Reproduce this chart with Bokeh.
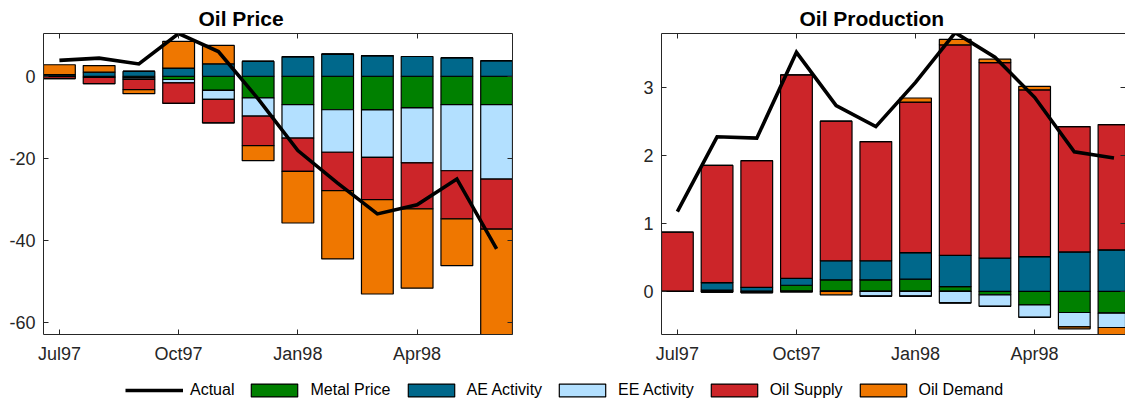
import numpy as np
from bokeh.plotting import figure
from bokeh.models import Range1d, FixedTicker, LinearAxis, Legend, LegendItem
from bokeh.layouts import column, row
from bokeh.embed import file_html
from bokeh.resources import INLINE

# ---------------- data ----------------
months = ["Jul97", "Aug97", "Sep97", "Oct97", "Nov97", "Dec97",
          "Jan98", "Feb98", "Mar98", "Apr98", "May98", "Jun98"]
x_tick_pos = [0, 3, 6, 9]
x_tick_labels = ["Jul97", "Oct97", "Jan98", "Apr98"]

series_names = ["Metal Price", "AE Activity", "EE Activity", "Oil Supply", "Oil Demand"]
series_colors = ["#008000", "#00688b", "#b3e0ff", "#cc2529", "#ef7700"]

# Oil Price panel
price_metal = [-0.1, -0.3, -0.4, -0.8, -3.45, -5.3, -6.93, -8.15, -8.2, -7.7, -6.93, -6.93]
price_ae = [0.4, 1.0, 1.17, 2.0, 3.04, 3.6, 4.75, 5.4, 5.0, 4.8, 4.5, 3.77]
price_ee = [0.0, 0.0, -0.35, -0.8, -2.2, -4.4, -8.11, -10.35, -11.56, -13.37, -16.07, -18.1]
price_supply = [-0.5, -1.5, -2.5, -5.0, -5.7, -7.2, -8.12, -9.36, -10.29, -11.2, -11.7, -12.2]
price_demand = [2.4, 1.6, -1.0, 6.5, 4.45, -3.65, -12.56, -16.6, -22.95, -19.3, -11.4, -28.0]
price_actual = [3.85, 4.4, 3.0, 10.4, 6.0, -5.5, -18.1, -26.0, -33.5, -31.3, -25.0, -42.0]
price_yticks = [-60, -40, -20, 0]
price_ytick_labels = ["-60", "-40", "-20", "0"]

# Oil Production panel
prod_metal = [0.0, 0.02, 0.0, 0.09, 0.17, 0.17, 0.18, 0.07, -0.05, -0.20, -0.31, -0.32]
prod_ae = [0.0, 0.11, 0.06, 0.10, 0.28, 0.28, 0.39, 0.46, 0.49, 0.51, 0.58, 0.61]
prod_ee = [0.0, -0.01, -0.02, 0.0, 0.0, -0.07, -0.07, -0.17, -0.17, -0.18, -0.21, -0.21]
prod_supply = [0.87, 1.72, 1.86, 2.99, 2.05, 1.75, 2.21, 3.09, 2.87, 2.45, 1.84, 1.84]
prod_demand = [0.0, 0.0, 0.0, -0.01, -0.05, 0.0, 0.06, 0.08, 0.05, 0.05, -0.03, -0.12]
prod_actual = [1.17, 2.27, 2.25, 3.51, 2.73, 2.42, 3.07, 3.80, 3.44, 2.85, 2.05, 1.96]
prod_yticks = [0, 1, 2, 3]
prod_ytick_labels = ["0", "1", "2", "3"]

# ---------------- styling ----------------
AX = "#262626"
FONT = "Liberation Sans"
FIG_H = 372
TOP = 33
FRAME_H = 301


def style_axis(ax, standoff=8, show_labels=True, line=True):
    ax.axis_line_color = AX if line else None
    ax.axis_line_width = 1
    ax.major_tick_line_color = AX
    ax.major_tick_line_width = 1
    ax.major_tick_in = 5
    ax.major_tick_out = 0
    ax.minor_tick_line_color = None
    ax.major_label_text_font = FONT
    if show_labels:
        ax.major_label_text_font_size = "18px"
        ax.major_label_text_color = AX
    else:
        ax.major_label_text_font_size = "1px"
        ax.major_label_text_color = None
    ax.major_label_standoff = standoff


def make_panel(title, comps, actual, yr, yticks, ylabels, width, mbl, mbr, xr,
               title_offset, right_line=True):
    n = len(actual)
    idx = np.arange(n)
    p = figure(width=width, height=FIG_H, x_range=Range1d(*xr), y_range=Range1d(*yr),
               output_backend="svg", toolbar_location=None,
               x_axis_location=None, y_axis_location=None,
               min_border_left=mbl, min_border_right=mbr,
               min_border_top=TOP, min_border_bottom=FIG_H - TOP - FRAME_H)
    p.outline_line_color = None
    p.background_fill_color = "white"
    p.border_fill_color = "white"
    p.xgrid.grid_line_color = None
    p.ygrid.grid_line_color = None

    pos_base = np.zeros(n)
    neg_base = np.zeros(n)
    for vals, color in zip(comps, series_colors):
        v = np.asarray(vals, dtype=float)
        pos = np.where(v > 0, v, 0.0)
        neg = np.where(v < 0, v, 0.0)
        p.vbar(x=idx, bottom=pos_base, top=pos_base + pos, width=0.8,
               fill_color=color, line_color="black", line_width=1.2)
        pos_base = pos_base + pos
        p.vbar(x=idx, bottom=neg_base, top=neg_base + neg, width=0.8,
               fill_color=color, line_color="black", line_width=1.2)
        neg_base = neg_base + neg

    p.line(x=idx, y=actual, line_color="black", line_width=3.6, line_join="miter")

    xover = {t: l for t, l in zip(x_tick_pos, x_tick_labels)}
    yover = {t: l for t, l in zip(yticks, ylabels)}

    bottom = LinearAxis(ticker=FixedTicker(ticks=x_tick_pos), major_label_overrides=xover)
    style_axis(bottom, standoff=9)
    p.add_layout(bottom, "below")
    top = LinearAxis(ticker=FixedTicker(ticks=x_tick_pos))
    style_axis(top, standoff=0, show_labels=False)
    p.add_layout(top, "above")
    left = LinearAxis(ticker=FixedTicker(ticks=yticks), major_label_overrides=yover)
    style_axis(left, standoff=8)
    p.add_layout(left, "left")
    right = LinearAxis(ticker=FixedTicker(ticks=yticks))
    style_axis(right, standoff=0, show_labels=False, line=right_line)
    p.add_layout(right, "right")

    p.title.text = title
    p.title.align = "left"
    p.title.offset = title_offset
    p.title.text_font = FONT
    p.title.text_font_size = "21px"
    p.title.text_font_style = "bold"
    p.title.text_color = "black"
    p.title.standoff = 7
    return p


p1 = make_panel("Oil Price",
                [price_metal, price_ae, price_ee, price_supply, price_demand],
                price_actual, (-62.85, 10.4), price_yticks, price_ytick_labels,
                width=568, mbl=43, mbr=56, xr=(-0.4, 11.4), title_offset=155)
p2 = make_panel("Oil Production",
                [prod_metal, prod_ae, prod_ee, prod_supply, prod_demand],
                prod_actual, (-0.633, 3.787), prod_yticks, prod_ytick_labels,
                width=557, mbl=93, mbr=0, xr=(-0.4, 11.29), title_offset=138,
                right_line=False)

# ---------------- legend ----------------
# proxy renderers: real data, but drawn outside the legend figure's visible range
lg = figure(width=1125, height=406 - FIG_H, x_range=Range1d(100, 101), y_range=Range1d(100, 101),
            output_backend="svg", toolbar_location=None,
            x_axis_location=None, y_axis_location=None, min_border=0)
lg.outline_line_color = None
lg.xgrid.grid_line_color = None
lg.ygrid.grid_line_color = None
idx_all = np.arange(len(months))
items = []
r_line = lg.line(x=idx_all, y=price_actual, line_color="black", line_width=3.6)
items.append(LegendItem(label="Actual", renderers=[r_line]))
for name, color, vals in zip(series_names, series_colors,
                             [price_metal, price_ae, price_ee, price_supply, price_demand]):
    r = lg.vbar(x=idx_all, top=vals, width=0.8, fill_color=color,
                line_color="black", line_width=1.2)
    items.append(LegendItem(label=name, renderers=[r]))
leg = Legend(items=items, orientation="horizontal", location=(125, 7),
             glyph_width=58, glyph_height=16, label_standoff=7, spacing=11,
             padding=0, margin=0, border_line_color=None, background_fill_alpha=0,
             label_text_font=FONT, label_text_font_size="16px", label_text_color="black")
lg.add_layout(leg, "center")

layout = column(row(p1, p2), lg)
open("out.html", "w").write(file_html(layout, INLINE))
